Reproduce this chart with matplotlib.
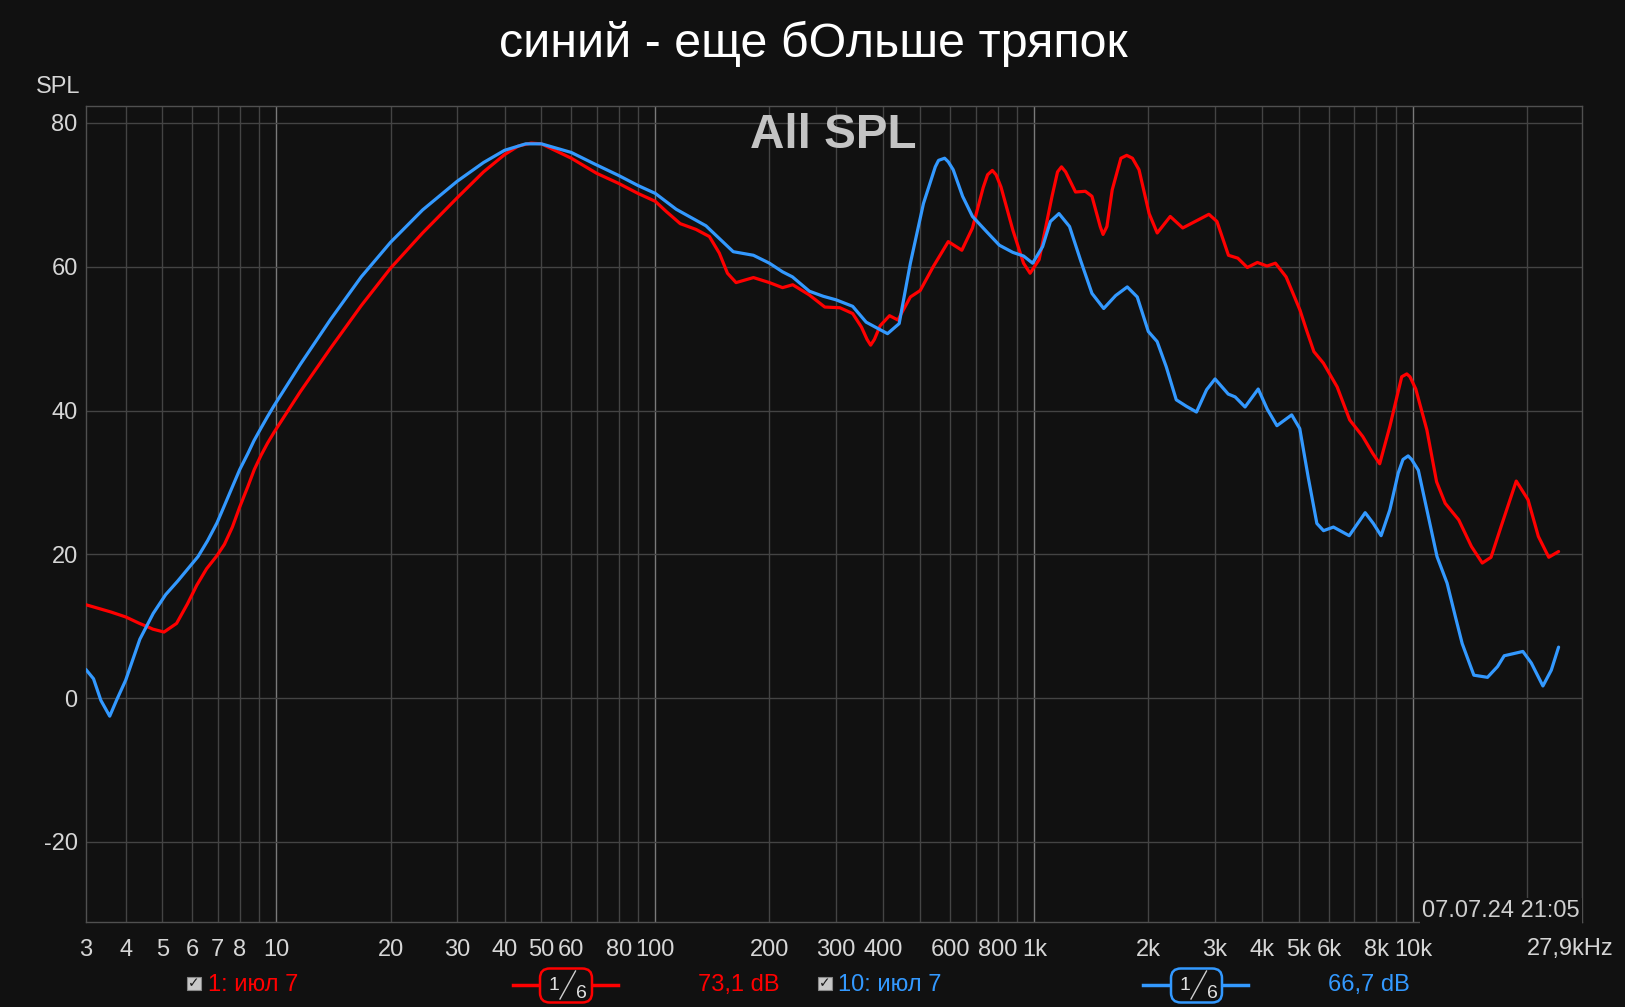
import numpy as np
import matplotlib
matplotlib.use("Agg")
import matplotlib.pyplot as plt
from matplotlib.patches import FancyBboxPatch, Rectangle
from matplotlib.lines import Line2D

# ---------------- data ----------------
title = "синий - еще бОльше тряпок"
red_label = "1: июл 7"
blue_label = "10: июл 7"
red_level = "73,1 dB"
blue_level = "66,7 dB"
timestamp = "07.07.24 21:05"

freq_red = [3.14, 3.65, 4.0, 4.35, 4.54, 4.72, 5.05, 5.45, 5.82, 6.16, 6.54, 6.96, 7.29, 7.65,
            8.0, 8.40, 8.74, 9.11, 9.48, 9.86, 11.55, 13.9, 16.74, 20, 24.3, 30, 35.2, 40,
            43.5, 47, 50, 60, 70, 80, 90, 100, 106.8, 116.3, 128, 138.9, 147.5, 155, 163.3,
            181.5, 200, 216.6, 230.4, 254.6, 280, 307, 331.7, 350, 362, 370, 378.5, 392, 415,
            436.5, 471, 500, 541, 593, 644, 687, 733, 753, 775, 793, 817, 878, 937, 975, 1030,
            1114, 1152, 1180, 1210, 1285, 1364, 1420, 1493, 1519, 1555, 1606, 1693, 1754, 1816,
            1890, 2010, 2111, 2285, 2465, 2890, 3035,
            3255, 3445, 3650, 3880, 4115, 4330, 4620, 5025, 5230, 5470, 5795, 6300, 6800,
            7360, 7810, 8160, 8680, 9190, 9327, 9620, 9809, 10160, 10870, 11530, 12150, 13190,
            14250, 15220, 16050, 17070, 18710, 20100, 21400, 22800, 24200]
spl_red = [13.0, 12.0, 11.3, 10.4, 10.0, 9.6, 9.2, 10.4, 13.1, 15.7, 18.0, 19.8, 21.4, 23.8,
           26.6, 29.4, 31.8, 33.8, 35.5, 37.0, 42.6, 48.7, 54.6, 59.8, 64.7, 69.6, 73.2, 75.6,
           76.8, 77.2, 77.1, 75.1, 73.0, 71.6, 70.2, 69.1, 67.7, 66.0, 65.2, 64.2, 61.9, 59.1, 57.8,
           58.5, 57.8, 57.1, 57.5, 56.1, 54.4, 54.3, 53.5, 51.6, 49.9, 49.1, 49.9, 51.8, 53.2,
           52.6, 55.8, 56.7, 60.0, 63.5, 62.3, 65.4, 71.0, 72.8, 73.4, 72.8, 71.1, 65.1, 60.5, 59.1,
           61.0, 69.8, 73.2, 73.9, 73.2, 70.4, 70.5, 69.8, 65.6, 64.5, 65.6, 70.7, 75.1, 75.5, 75.1,
           73.5, 67.4, 64.7, 67.0, 65.4, 67.3, 66.3,
           61.6, 61.2, 59.9, 60.6, 60.1, 60.5, 58.6, 54.0, 51.2, 48.2, 46.6, 43.3, 38.7,
           36.4, 34.1, 32.6, 37.8, 43.3, 44.7, 45.1, 44.7, 43.0, 37.3, 30.1, 27.1, 24.8,
           21.1, 18.8, 19.6, 23.9, 30.2, 27.6, 22.5, 19.6, 20.4]

freq_blue = [3.14, 3.29, 3.44, 3.63, 3.79, 4.0, 4.36, 4.73, 5.1, 5.49, 5.86, 6.21, 6.58, 6.97,
             7.29, 7.65, 8.0, 8.40, 8.72, 9.11, 9.48, 9.86, 11.55, 13.9, 16.74, 20, 24.3, 30,
             35.2, 40, 45.5, 50, 60, 69.1, 80, 90, 100, 113.5, 136, 160.5, 181.5, 200, 216.6,
             230, 255, 277.3, 300, 331.7, 360, 384, 410, 440, 471, 510, 548, 559, 580, 593, 611,
             647, 687, 748, 809, 878, 937, 990, 1052, 1103, 1162, 1239, 1325, 1420, 1525, 1640,
             1760, 1870, 2000, 2110, 2230, 2370, 2520, 2680, 2850, 3000, 3250, 3390, 3600,
             3900, 4120, 4370, 4780, 5020, 5290, 5570, 5800, 6160, 6780, 7470, 7850, 8230,
             8680, 9130, 9400, 9700, 9909, 10320, 10870, 11560, 12290, 12930, 13470, 14460,
             15710, 16700, 17390, 19480, 20500, 22000, 23150, 24200]
spl_blue = [4.0, 2.7, -0.3, -2.5, -0.2, 2.5, 8.2, 11.8, 14.4, 16.3, 18.1, 19.7, 21.9, 24.4,
            26.8, 29.4, 31.8, 34.0, 35.8, 37.6, 39.2, 40.7, 46.4, 52.7, 58.6, 63.4, 67.9, 71.9,
            74.5, 76.2, 77.1, 77.1, 75.9, 74.3, 72.7, 71.3, 70.2, 68.0, 65.7, 62.1, 61.6, 60.5, 59.3,
            58.6, 56.6, 55.9, 55.4, 54.5, 52.3, 51.5, 50.7, 52.1, 60.5, 68.8, 73.9, 74.8, 75.1, 74.6,
            73.5, 69.8, 67.0, 64.9, 63.0, 62.0, 61.5, 60.5, 62.8, 66.3, 67.4, 65.6, 60.9, 56.3,
            54.2, 56.0, 57.2, 55.8, 51.0, 49.6, 46.1, 41.5, 40.6, 39.8, 42.9, 44.4, 42.3, 41.9,
            40.5, 43.0, 40.2, 37.9, 39.4, 37.5, 30.6, 24.3, 23.3, 23.8, 22.6, 25.8, 24.3, 22.6,
            26.2, 31.3, 33.2, 33.7, 33.2, 31.7, 26.2, 19.7, 16.0, 11.3, 7.6, 3.2,
            2.9, 4.4, 5.9, 6.5, 4.9, 1.7, 3.9, 7.1]

tick_freqs = [3, 4, 5, 6, 7, 8, 10, 20, 30, 40, 50, 60, 80, 100, 200, 300, 400, 600, 800,
              1000, 2000, 3000, 4000, 5000, 6000, 8000, 10000]
tick_labels = ["3", "4", "5", "6", "7", "8", "10", "20", "30", "40", "50", "60", "80", "100",
               "200", "300", "400", "600", "800", "1k", "2k", "3k", "4k", "5k", "6k", "8k", "10k"]
end_label = "27,9kHz"
y_ticks = [-20, 0, 20, 40, 60, 80]

# ---------------- style ----------------
BG = "#111111"
RED = "#ff0000"
BLUE = "#3399ff"
TXT = "#d6d6d6"
GRID = "#444444"
GRID_DEC = "#7a7a7a"
FS = 17
FONT = ["Liberation Sans", "DejaVu Sans"]
plt.rcParams["font.family"] = FONT

W, H = 1625, 1007
fig = plt.figure(figsize=(W / 100, H / 100), dpi=100, facecolor=BG)


def fx(x):
    return x / W


def fy(y):
    return 1 - y / H


XMIN, XMAX = 3.143, 27900
ax = fig.add_axes([fx(86), fy(922.3), (1582 - 86) / W, (922.3 - 106.3) / H])
ax.set_facecolor(BG)
ax.set_xscale("log")
ax.set_xlim(XMIN, XMAX)
ax.set_ylim(-31.17, 82.32)

# grid lines
for dec in [1, 10, 100, 1000, 10000]:
    for m in range(1, 10):
        f = dec * m
        if XMIN < f < XMAX:
            c = GRID_DEC if m == 1 else GRID
            ax.axvline(f, color=c, lw=1.0, zorder=1)
for yv in y_ticks:
    ax.axhline(yv, color=GRID, lw=1.0, zorder=1)

for sp in ax.spines.values():
    sp.set_color("#505050")
    sp.set_linewidth(1.0)

ax.xaxis.set_minor_locator(matplotlib.ticker.NullLocator())
ax.set_xticks([max(f, XMIN) for f in tick_freqs])
ax.set_xticklabels(tick_labels)
ax.set_yticks(y_ticks)
ax.set_yticklabels([str(v) for v in y_ticks])
ax.tick_params(axis="x", length=0, pad=12, labelsize=FS, colors=TXT)
ax.tick_params(axis="y", length=0, pad=6, labelsize=FS, colors=TXT)

# curves
ax.plot(freq_red, spl_red, color=RED, lw=2.3, zorder=3, solid_joinstyle="round",
        solid_capstyle="round")
ax.plot(freq_blue, spl_blue, color=BLUE, lw=2.3, zorder=4, solid_joinstyle="round",
        solid_capstyle="round")

# texts
fig.text(fx(813), fy(44), title, color="white", fontsize=34.8, ha="center", va="center")
fig.text(fx(833), fy(136), "All SPL", color="#c4c4c4", fontsize=34.3, fontweight="bold",
         ha="center", va="center", zorder=5)
fig.text(fx(80), fy(87), "SPL", color=TXT, fontsize=FS, ha="right", va="center")
fig.text(fx(1613), fy(949), end_label, color=TXT, fontsize=FS, ha="right", va="center")
ax.text(fx(1580), fy(911), timestamp, transform=fig.transFigure, color="#cfcfcf",
        fontsize=FS, ha="right", va="center", zorder=6,
        bbox=dict(facecolor=BG, edgecolor="none", pad=1.5))


# legend
def legend_item(cb_x, label, label_x, color, line_x0, line_x1, box_x0, box_x1, level, level_x):
    yc = 985
    fig.patches.append(Rectangle((fx(cb_x), fy(990)), 13.5 / W, 13.5 / H, transform=fig.transFigure,
                                 facecolor="#c8c8c8", edgecolor="#888888", lw=0.8, zorder=3))
    fig.text(fx(cb_x + 6.8), fy(983.2), "✓", color="#1a1a1a", fontsize=10, ha="center",
             va="center", family=["DejaVu Sans"], fontweight="bold", zorder=5)
    fig.text(fx(label_x), fy(yc), label, color=color, fontsize=FS, ha="left", va="center")
    fig.lines.append(Line2D([fx(line_x0), fx(line_x1)], [fy(yc), fy(yc)], transform=fig.transFigure,
                            color=color, lw=2.5, zorder=2))
    fig.patches.append(FancyBboxPatch((fx(box_x0), fy(1002.5)), (box_x1 - box_x0) / W, 34 / H,
                                      boxstyle="round,pad=0,rounding_size=0.006",
                                      transform=fig.transFigure, facecolor=BG, edgecolor=color,
                                      lw=1.8, mutation_aspect=W / H, zorder=3))
    bx = box_x0
    fig.text(fx(bx + 14), fy(985), "1", color="#e0e0e0", fontsize=14, ha="center", va="center",
             zorder=5)
    fig.text(fx(bx + 41), fy(993), "6", color="#e0e0e0", fontsize=14, ha="center", va="center",
             zorder=5)
    fig.lines.append(Line2D([fx(bx + 20), fx(bx + 35.5)], [fy(999), fy(971)],
                            transform=fig.transFigure, color="#cfcfcf", lw=1.0, zorder=5))
    fig.text(fx(level_x), fy(yc), level, color=color, fontsize=FS, ha="right", va="center")


legend_item(187, red_label, 208, RED, 513, 618, 540, 592, red_level, 779.5)
legend_item(818, blue_label, 838, BLUE, 1143, 1248, 1171, 1222, blue_level, 1409.5)

fig.savefig("out.png", dpi=100, facecolor=BG)
